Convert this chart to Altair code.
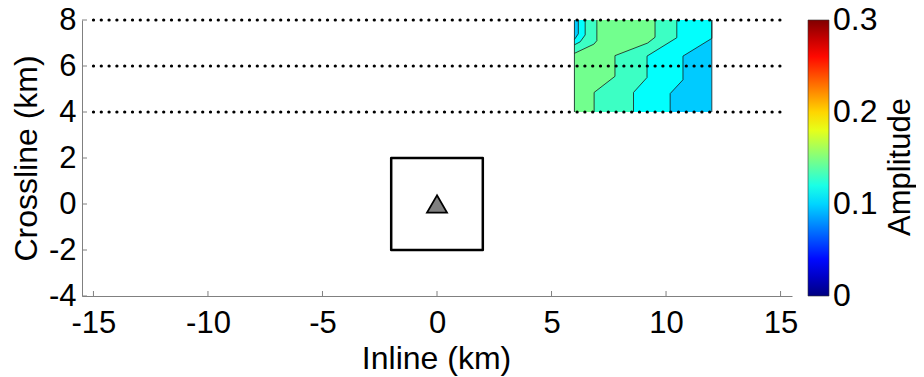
import altair as alt
import pandas as pd

# ---------------- data ----------------
x_ticks = [-15, -10, -5, 0, 5, 10, 15]
y_ticks = [-4, -2, 0, 2, 4, 6, 8]
cbar_ticks = [0, 0.1, 0.2, 0.3]
cbar_labels = ["0", "0.1", "0.2", "0.3"]
cbar_inner_ticks = [0.1, 0.2]
cbar_title = ["Amplitude"]

survey_y = [4, 6, 8]          # dotted acquisition lines
survey_x = [-15, 15]

box_x = [-2, 2]               # square around the station
box_y = [-2, 2]
station_x = [0]
station_y = [0]

patch_x = [6, 12]             # contoured patch extent
patch_y = [4, 8]
patch_amp = 0.097             # background band (deep sky blue)

# contour lines (x, y vertices) and the amplitude of the band left of each
c6_x = [12.0, 12.0, 10.74, 10.74, 10.18, 10.18]
c6_y = [8.0, 7.2, 6.43, 5.4, 4.8, 4.0]
c6_amp = 0.113
c5_x = [10.47, 10.47, 9.17, 9.17, 8.58, 8.58]
c5_y = [8.0, 7.23, 6.43, 5.5, 4.85, 4.0]
c5_amp = 0.13
c4_x = [9.52, 9.52, 9.2, 7.77, 7.77, 6.86, 6.86]
c4_y = [8.0, 7.25, 7.0, 6.45, 5.55, 4.85, 4.0]
c4_amp = 0.146
c3_x = [6.98, 6.98, 6.85, 6.0]
c3_y = [8.0, 7.1, 6.95, 6.55]
c3_amp = 0.13
c2_x = [6.47, 6.47, 6.25, 6.0]
c2_y = [8.0, 7.35, 7.05, 6.92]
c2_amp = 0.113
c1_x = [6.17, 6.17, 6.0]
c1_y = [8.0, 7.4, 7.15]
c1_amp = 0.097

contours = [(c6_x, c6_y, c6_amp), (c5_x, c5_y, c5_amp), (c4_x, c4_y, c4_amp),
            (c3_x, c3_y, c3_amp), (c2_x, c2_y, c2_amp), (c1_x, c1_y, c1_amp)]

# jet colormap
jet_colors = ["#000080", "#0000ff", "#0080ff", "#00ffff", "#80ff80",
              "#ffff00", "#ff8000", "#ff0000", "#800000"]
jet_domain = [0, 0.0375, 0.075, 0.1125, 0.15, 0.1875, 0.225, 0.2625, 0.3]

FONT = "Liberation Sans"
FS = 31
TFS = 32
W, H = 710, 276
AXIS_GRAY = "#808080"
CB_X = 726          # colorbar left edge (px from plot origin)
CB_W = 21

xscale = alt.Scale(domain=[-15.5, 15.5], nice=False, zero=False)
yscale = alt.Scale(domain=[-4, 8], nice=False, zero=False)
cscale = alt.Scale(domain=jet_domain, range=jet_colors, interpolate="rgb")
cbscale = alt.Scale(domain=[0, 0.3], nice=False, zero=False)

x_axis = alt.Axis(values=x_ticks, ticks=False, grid=False, domainColor=AXIS_GRAY,
                  labelExpr="'' + datum.value",
                  labelFontSize=FS, labelFont=FONT, labelColor="black", labelPadding=12,
                  title="Inline (km)", titleFontSize=TFS, titleFont=FONT,
                  titleFontWeight="normal", titleColor="black",
                  titleX=W / 2 - 1, titleY=72, titleBaseline="alphabetic")
y_axis = alt.Axis(values=y_ticks, ticks=False, grid=False, domainColor=AXIS_GRAY,
                  labelExpr="'' + datum.value",
                  labelFontSize=FS, labelFont=FONT, labelColor="black", labelPadding=6,
                  title="Crossline (km)", titleFontSize=TFS, titleFont=FONT,
                  titleFontWeight="normal", titleColor="black",
                  titleX=-46, titleY=H / 2, titleBaseline="alphabetic")
legend = alt.Legend(title="", orient="none", legendX=CB_X, legendY=0,
                    direction="vertical", gradientLength=H, gradientThickness=CB_W,
                    values=cbar_ticks, labelExpr="''", labelFontSize=FS,
                    gradientStrokeColor="#333333", gradientStrokeWidth=0.6)


def X(field):
    return alt.X(field, type="quantitative", scale=xscale, axis=x_axis)


def Y(field):
    return alt.Y(field, type="quantitative", scale=yscale, axis=y_axis)


def C(field):
    return alt.Color(field, type="quantitative", scale=cscale, legend=legend)


layers = []

# background band of the patch
patch_df = pd.DataFrame({"x0": [patch_x[0]], "x1": [patch_x[1]],
                         "y0": [patch_y[0]], "y1": [patch_y[1]], "amp": [patch_amp]})
layers.append(alt.Chart(patch_df).mark_rect().encode(
    x=X("x0"), x2="x1", y=Y("y0"), y2="y1", color=C("amp")))

# filled contour bands: polygon = contour line closed along the left patch edge
for k, (cx, cy, amp) in enumerate(contours):
    px = list(cx) + [patch_x[0], patch_x[0]]
    py = list(cy) + [cy[-1], cy[0]]
    df = pd.DataFrame({"x": px, "y": py, "amp": [amp] * len(px),
                       "i": list(range(len(px)))})
    layers.append(alt.Chart(df).mark_line(
        filled=True, interpolate="linear-closed", strokeWidth=0).encode(
        x=X("x"), y=Y("y"), color=C("amp"), order=alt.Order("i:Q")))

# contour lines
for k, (cx, cy, amp) in enumerate(contours):
    df = pd.DataFrame({"x": cx, "y": cy, "i": list(range(len(cx)))})
    layers.append(alt.Chart(df).mark_line(color="#1a1a1a", strokeWidth=0.8).encode(
        x=X("x"), y=Y("y"), order=alt.Order("i:Q")))

# patch side edges
edge_df = pd.DataFrame({"x": patch_x, "y0": [patch_y[0]] * 2, "y1": [patch_y[1]] * 2})
layers.append(alt.Chart(edge_df).mark_rule(color="#1a1a1a", strokeWidth=0.8).encode(
    x=X("x"), y=Y("y0"), y2="y1"))

# dotted survey lines
survey_df = pd.DataFrame({"y": survey_y, "x0": [survey_x[0]] * 3, "x1": [survey_x[1]] * 3})
layers.append(alt.Chart(survey_df).mark_rule(
    color="black", strokeWidth=3.2, strokeDash=[0.1, 7.7], strokeCap="round").encode(
    x=X("x0"), x2="x1", y=Y("y")))

# square
box_df = pd.DataFrame({"x0": [box_x[0]], "x1": [box_x[1]], "y0": [box_y[0]], "y1": [box_y[1]]})
layers.append(alt.Chart(box_df).mark_rect(
    filled=False, stroke="black", strokeWidth=2.5, strokeJoin="round").encode(
    x=X("x0"), x2="x1", y=Y("y0"), y2="y1"))

# station triangle
st_df = pd.DataFrame({"x": station_x, "y": station_y})
layers.append(alt.Chart(st_df).mark_point(
    shape="triangle-up", filled=True, fill="#808080", stroke="black",
    strokeWidth=1.8, size=400, opacity=1).encode(x=X("x"), y=Y("y")))

# inward ticks
xt_df = pd.DataFrame({"x": x_ticks})
layers.append(alt.Chart(xt_df).mark_rule(color=AXIS_GRAY, strokeWidth=1).encode(
    x=X("x"), y=alt.value(H), y2=alt.value(H - 5)))
yt_df = pd.DataFrame({"y": y_ticks})
layers.append(alt.Chart(yt_df).mark_rule(color=AXIS_GRAY, strokeWidth=1).encode(
    y=Y("y"), x=alt.value(0), x2=alt.value(5)))

main = alt.layer(*layers)

# ---------------- colorbar labels / ticks / title ----------------
cbl_df = pd.DataFrame({"v": cbar_ticks, "t": cbar_labels})
cb_labels = alt.Chart(cbl_df).mark_text(
    fontSize=32, font=FONT, color="black", align="left", baseline="middle").encode(
    y=alt.Y("v:Q", scale=cbscale, axis=None), text="t:N",
    x=alt.value(CB_X + CB_W + 4))
cbt_df = pd.DataFrame({"v": cbar_inner_ticks})
cb_tick_l = alt.Chart(cbt_df).mark_rule(color="#333333", strokeWidth=0.8).encode(
    y=alt.Y("v:Q", scale=cbscale, axis=None), x=alt.value(CB_X), x2=alt.value(CB_X + 3))
cb_tick_r = alt.Chart(cbt_df).mark_rule(color="#333333", strokeWidth=0.8).encode(
    y=alt.Y("v:Q", scale=cbscale, axis=None), x=alt.value(CB_X + CB_W - 3),
    x2=alt.value(CB_X + CB_W))
ct_df = pd.DataFrame({"t": cbar_title})
cb_title = alt.Chart(ct_df).mark_text(
    angle=270, fontSize=31, font=FONT, color="black", align="center",
    baseline="alphabetic").encode(text="t:N", x=alt.value(828), y=alt.value(147))
cbar = alt.layer(cb_labels, cb_tick_l, cb_tick_r, cb_title)

chart = alt.layer(main, cbar).resolve_scale(y="independent").properties(
    width=W, height=H,
    autosize=alt.AutoSizeParams(type="none"),
    padding={"left": 74, "top": 12, "right": 124, "bottom": 80},
).configure_view(stroke="transparent")

chart.save("out.html", embed_options={"renderer": "svg", "actions": False})
